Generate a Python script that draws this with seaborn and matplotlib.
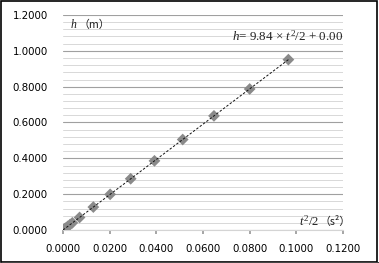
import matplotlib
matplotlib.use("Agg")
import matplotlib.pyplot as plt
import seaborn as sns
import numpy as np
import pandas as pd
from matplotlib.ticker import MultipleLocator, FormatStrFormatter
from matplotlib.patches import Rectangle

# data
t2_half = [0.0005, 0.0010, 0.0020, 0.0030, 0.0040, 0.0071, 0.0130, 0.0202,
           0.0290, 0.0392, 0.0513, 0.0647, 0.0800, 0.0966]
h_vals = [0.005, 0.010, 0.020, 0.030, 0.040, 0.070, 0.128, 0.199,
          0.286, 0.386, 0.505, 0.637, 0.787, 0.951]
x_ticks = [0.0, 0.02, 0.04, 0.06, 0.08, 0.10, 0.12]
y_ticks = [0.0, 0.2, 0.4, 0.6, 0.8, 1.0, 1.2]
eq_label = r"$h$= 9.84 × $t^2$/2 + 0.00"
y_title_sym = r"$h$"
y_title_unit = "（m）"
x_title_sym = r"$t^2$/2"
x_title_unit = "（s²）"

df = pd.DataFrame({"x": t2_half, "y": h_vals})
xa = np.array(t2_half)
ya = np.array(h_vals)
slope = float((xa * ya).sum() / (xa * xa).sum())
fit = pd.DataFrame({"x": [0.0, xa.max()]})
fit["y"] = slope * fit["x"]

sns.set_theme(style="white")
plt.rcParams["font.family"] = ["DejaVu Sans"]
plt.rcParams["mathtext.fontset"] = "custom"
plt.rcParams["mathtext.rm"] = "Liberation Serif"
plt.rcParams["mathtext.it"] = "Liberation Serif:italic"

fig = plt.figure(figsize=(3.79, 2.63), dpi=100)
ax = fig.add_axes([63 / 379, 1 - 230 / 263, 280 / 379, 215 / 263])

sns.scatterplot(data=df, x="x", y="y", marker="D", s=36, color="#8a8a8a",
                edgecolor="none", ax=ax, zorder=3)
sns.lineplot(data=fit, x="x", y="y", color="#111111", lw=0.7,
             linestyle=(0, (2.5, 1.8)), ax=ax, zorder=4)

ax.set_xlim(0, 0.12)
ax.set_ylim(0, 1.2)
ax.set_xticks(x_ticks)
ax.set_yticks(y_ticks)
ax.xaxis.set_major_formatter(FormatStrFormatter("%.4f"))
ax.yaxis.set_major_formatter(FormatStrFormatter("%.4f"))
ax.yaxis.set_minor_locator(MultipleLocator(0.04))
ax.grid(axis="y", which="major", color="#a0a0a0", lw=0.8)
ax.grid(axis="y", which="minor", color="#d8d8d8", lw=0.7)
ax.set_axisbelow(True)
for s in ["top", "right", "left"]:
    ax.spines[s].set_visible(False)
ax.spines["bottom"].set_color("#d4d4d4")
ax.spines["bottom"].set_linewidth(0.8)
ax.tick_params(axis="x", which="major", length=3, color="#9a9a9a",
               direction="out", labelsize=7.4, pad=7, bottom=True)
ax.tick_params(axis="y", which="both", length=0, labelsize=7.4, pad=11)
ax.tick_params(which="both", labelcolor="#000000")
ax.set_xlabel("")
ax.set_ylabel("")

serif = ["Liberation Serif", "DejaVu Serif"]
cjk = ["Noto Sans CJK SC", "DejaVu Sans"]
tc = "#222222"

# y-axis title inside the plot, top-left
t1 = ax.text(7 / 280, 1 - 10 / 215, y_title_sym, transform=ax.transAxes,
             fontsize=8.5, family=serif, va="center", ha="left", color=tc)
ax.annotate(y_title_unit, xy=(1, 0.5), xycoords=t1, xytext=(0.5, 0),
            textcoords="offset points", fontsize=7.8, family=cjk,
            va="center", ha="left", color=tc)

# regression equation
ax.text(1.0, 1 - 21 / 215, eq_label, transform=ax.transAxes, fontsize=9.4,
        family=serif, va="center", ha="right", color=tc)

# x-axis title inside the plot, bottom-right
t2 = ax.text(236 / 280, 9 / 215, x_title_sym, transform=ax.transAxes,
             fontsize=9.2, family=serif, va="center", ha="left", color=tc)
ax.annotate(x_title_unit, xy=(1, 0.5), xycoords=t2, xytext=(0.3, 0),
            textcoords="offset points", fontsize=7.8, family=cjk,
            va="center", ha="left", color=tc)

fig.patches.append(Rectangle((0.5 / 379, 1.5 / 263), 376.5 / 379, 261 / 263,
                             transform=fig.transFigure, fill=False,
                             edgecolor="#000000", lw=1.2))
fig.patches.append(Rectangle((2 / 379, 0), 377 / 379, 1.2 / 263,
                             transform=fig.transFigure, fill=True,
                             facecolor="#444444", edgecolor="none"))

fig.savefig("out.png", dpi=100)
